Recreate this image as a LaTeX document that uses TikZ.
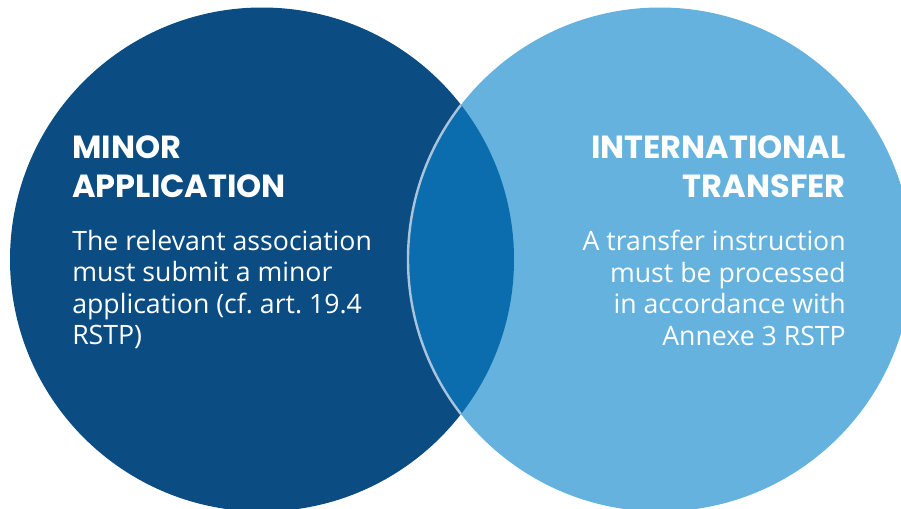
\documentclass[tikz,border=0pt]{standalone}
\usepackage{fontspec}
\newfontfamily\headfont{Poppins}[UprightFont=* Bold]
\newfontfamily\bodyfont{Open Sans}
\frenchspacing
\definecolor{darkblue}{HTML}{0B4C82}
\definecolor{lightblue}{HTML}{64B2DD}
\definecolor{midblue}{HTML}{0C6DAE}
\definecolor{arcgrey}{HTML}{A9C4DB}
\tikzset{
  headtext/.style={text=white, inner sep=0pt, font=\headfont\fontsize{24}{29.25}\selectfont},
  bodytext/.style={text=white, inner sep=0pt, font=\bodyfont\fontsize{20}{23.6}\selectfont},
}
\begin{document}
\begin{tikzpicture}[x=0.75pt,y=-0.75pt]
\useasboundingbox (0,0) rectangle (901,508);
\clip (0,0) rectangle (901,508);
\coordinate (lc) at (262,259.5);
\coordinate (rc) at (660,259.5);
\fill[darkblue] (lc) circle[radius=189pt];
\fill[lightblue] (rc) circle[radius=189pt];
\begin{scope}
  \clip (lc) circle[radius=189pt];
  \fill[midblue] (rc) circle[radius=189pt];
  \draw[arcgrey, line width=1.8pt] (rc) circle[radius=189pt];
\end{scope}
\node[headtext, anchor=north west, align=left] (lhead) at (72,135) {MINOR\\APPLICATION};
\node[bodytext, anchor=north west, align=left] (lbody) at (72,230) {The relevant association\\must submit a minor\\application (cf. art. 19.4\\RSTP)};
\node[headtext, anchor=north east, align=right] (rhead) at (846,135) {INTERNATIONAL\\TRANSFER};
\node[bodytext, anchor=north east, align=right] (rbody) at (846,230) {A transfer instruction\\must be processed\\in accordance with\\Annexe 3 RSTP};
\end{tikzpicture}
\end{document}
